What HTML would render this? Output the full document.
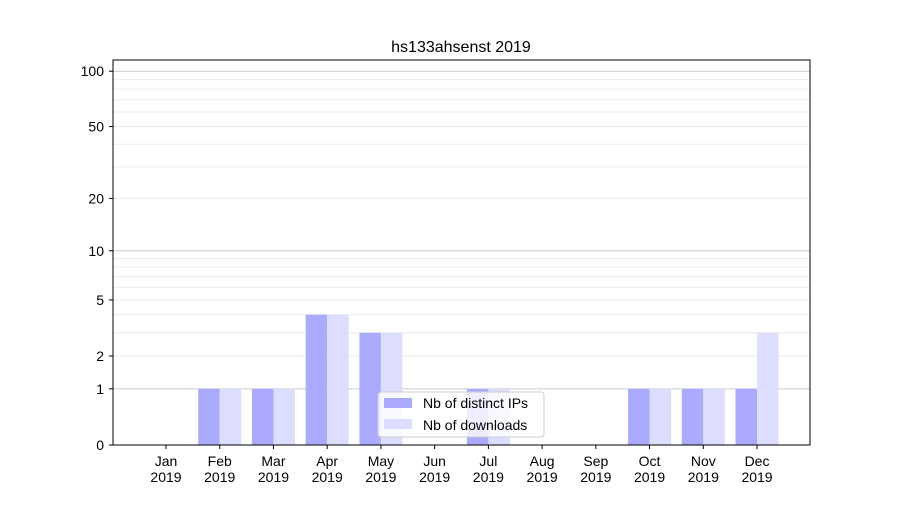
<!DOCTYPE html>
<html><head><meta charset="utf-8"><style>
body{margin:0;background:#fff;font-family:"Liberation Sans",sans-serif;}
</style></head><body>
<svg id="chart" width="900" height="500" xmlns="http://www.w3.org/2000/svg" font-family="Liberation Sans, sans-serif">
<rect width="900" height="500" fill="#fff"/>
<text x="461" y="52" font-size="16" text-anchor="middle">hs133ahsenst 2019</text>
<g id="grid"></g><g id="bars"></g><g id="axes"></g>
<rect x="113" y="60" width="697" height="385" fill="none" stroke="#000" stroke-width="1"/>
<g>
<rect x="378" y="392" width="166" height="45" fill="#fff" fill-opacity="0.8" stroke="#ccc" rx="3"/>
<rect x="384" y="398" width="28" height="10" fill="#aaaaff"/>
<text x="423" y="408" font-size="14">Nb of distinct IPs</text>
<rect x="384" y="419" width="28" height="10" fill="#ddddff"/>
<text x="423" y="430" font-size="14">Nb of downloads</text>
</g>
</svg>
<script>
const months=["Jan","Feb","Mar","Apr","May","Jun","Jul","Aug","Sep","Oct","Nov","Dec"];
const ips=[0,1,1,4,3,0,1,0,0,1,1,1];
const downloads=[0,1,1,4,3,0,1,0,0,1,1,3];
const yTicks=[0,1,2,5,10,20,50,100];
const NS="http://www.w3.org/2000/svg";
function y(v){return 445-186.5*Math.log10(1+v);}
function x(i){return 166+i*53.73;}
function mk(t,a,p){const e=document.createElementNS(NS,t);for(const k in a)e.setAttribute(k,a[k]);p.appendChild(e);return e;}
const grid=document.getElementById('grid'),bars=document.getElementById('bars'),axes=document.getElementById('axes');
const minor=[];for(let d=1;d<=100;d*=10)for(let m=1;m<10;m++){const v=d*m;if(v<=100)minor.push(v);}
minor.forEach(v=>{const major=(v===1||v===10||v===100);
const l=mk('line',{x1:113,x2:810,y1:y(v),y2:y(v),stroke:major?'#cccccc':'#ececec','stroke-width':1},grid);

});
months.forEach((m,i)=>{
const b1=mk('rect',{x:x(i)-21.5,y:y(ips[i]),width:21.5,height:445-y(ips[i]),fill:'#aaaaff'},bars);


const b2=mk('rect',{x:x(i),y:y(downloads[i]),width:21.5,height:445-y(downloads[i]),fill:'#ddddff'},bars);


mk('line',{x1:x(i),x2:x(i),y1:445,y2:449,stroke:'#000'},axes);
const t=mk('text',{x:x(i),y:466,'font-size':14,'text-anchor':'middle'},axes);


t.textContent=m;
const t2=mk('text',{x:x(i),y:482,'font-size':14,'text-anchor':'middle'},axes);


t2.textContent='2019';
});
yTicks.forEach(v=>{
mk('line',{x1:109,x2:113,y1:y(v),y2:y(v),stroke:'#000'},axes);
const t=mk('text',{x:104,y:y(v)+5,'font-size':14,'text-anchor':'end'},axes);


t.textContent=v;});
</script>
</body></html>
